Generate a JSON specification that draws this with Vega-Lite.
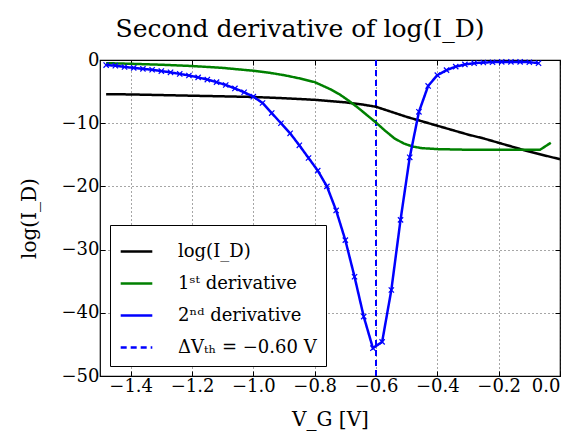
{
  "$schema": "https://vega.github.io/schema/vega-lite/v6.json",
  "width": 460,
  "height": 316,
  "autosize": {"type": "none"},
  "padding": {"left": 100, "top": 60, "right": 16, "bottom": 62},
  "background": "white",
  "title": {"text": "Second derivative of log(I_D)", "font": "DejaVu Serif", "fontSize": 25, "fontWeight": "normal", "color": "#000", "offset": 9, "anchor": "middle", "dx": -30},
  "config": {
    "font": "DejaVu Serif",
    "view": {"stroke": "#000", "strokeWidth": 1.2},
    "axis": {
      "labelFont": "DejaVu Serif", "labelFontSize": 18, "labelColor": "#000",
      "titleFont": "DejaVu Serif", "titleFontSize": 20, "titleFontWeight": "normal", "titleColor": "#000",
      "domain": false, "tickColor": "#000", "tickSize": -5, "tickWidth": 1,
      "grid": true, "gridColor": "#000", "gridDash": [1, 3], "gridOpacity": 0.7, "gridWidth": 1
    },
    "legend": {"labelFont": "DejaVu Serif", "labelFontSize": 18, "labelColor": "#000"},
    "style": {"guide-label": {"font": "DejaVu Serif"}}
  },
  "resolve": {"axis": {"x": "independent", "y": "independent"}},
  "datasets": {
    "curves": [
      {"s": "log(I_D)", "v": -1.48, "y": -5.4},
      {"s": "log(I_D)", "v": -1.4, "y": -5.45},
      {"s": "log(I_D)", "v": -1.3, "y": -5.55},
      {"s": "log(I_D)", "v": -1.2, "y": -5.65},
      {"s": "log(I_D)", "v": -1.1, "y": -5.75},
      {"s": "log(I_D)", "v": -1.0, "y": -5.85},
      {"s": "log(I_D)", "v": -0.9, "y": -6.05},
      {"s": "log(I_D)", "v": -0.8, "y": -6.3},
      {"s": "log(I_D)", "v": -0.7, "y": -6.7},
      {"s": "log(I_D)", "v": -0.65, "y": -7.0},
      {"s": "log(I_D)", "v": -0.6, "y": -7.4},
      {"s": "log(I_D)", "v": -0.55, "y": -8.2},
      {"s": "log(I_D)", "v": -0.5, "y": -9.0},
      {"s": "log(I_D)", "v": -0.45, "y": -9.7},
      {"s": "log(I_D)", "v": -0.4, "y": -10.4},
      {"s": "log(I_D)", "v": -0.35, "y": -11.1},
      {"s": "log(I_D)", "v": -0.3, "y": -11.8},
      {"s": "log(I_D)", "v": -0.25, "y": -12.4},
      {"s": "log(I_D)", "v": -0.2, "y": -13.1},
      {"s": "log(I_D)", "v": -0.15, "y": -13.8},
      {"s": "log(I_D)", "v": -0.1, "y": -14.5},
      {"s": "log(I_D)", "v": -0.05, "y": -15.1},
      {"s": "log(I_D)", "v": 0.0, "y": -15.7},
      {"s": "1ˢᵗ derivative", "v": -1.48, "y": -0.5},
      {"s": "1ˢᵗ derivative", "v": -1.4, "y": -0.6},
      {"s": "1ˢᵗ derivative", "v": -1.3, "y": -0.75},
      {"s": "1ˢᵗ derivative", "v": -1.2, "y": -0.95},
      {"s": "1ˢᵗ derivative", "v": -1.1, "y": -1.25},
      {"s": "1ˢᵗ derivative", "v": -1.0, "y": -1.7},
      {"s": "1ˢᵗ derivative", "v": -0.95, "y": -2.0},
      {"s": "1ˢᵗ derivative", "v": -0.9, "y": -2.4},
      {"s": "1ˢᵗ derivative", "v": -0.85, "y": -2.9},
      {"s": "1ˢᵗ derivative", "v": -0.8, "y": -3.5},
      {"s": "1ˢᵗ derivative", "v": -0.75, "y": -4.6},
      {"s": "1ˢᵗ derivative", "v": -0.72, "y": -5.4},
      {"s": "1ˢᵗ derivative", "v": -0.69, "y": -6.4},
      {"s": "1ˢᵗ derivative", "v": -0.66, "y": -7.5},
      {"s": "1ˢᵗ derivative", "v": -0.63, "y": -8.7},
      {"s": "1ˢᵗ derivative", "v": -0.6, "y": -9.9},
      {"s": "1ˢᵗ derivative", "v": -0.57, "y": -11.2},
      {"s": "1ˢᵗ derivative", "v": -0.54, "y": -12.4},
      {"s": "1ˢᵗ derivative", "v": -0.51, "y": -13.2},
      {"s": "1ˢᵗ derivative", "v": -0.48, "y": -13.7},
      {"s": "1ˢᵗ derivative", "v": -0.45, "y": -13.95},
      {"s": "1ˢᵗ derivative", "v": -0.4, "y": -14.1},
      {"s": "1ˢᵗ derivative", "v": -0.3, "y": -14.2},
      {"s": "1ˢᵗ derivative", "v": -0.2, "y": -14.2},
      {"s": "1ˢᵗ derivative", "v": -0.1, "y": -14.2},
      {"s": "1ˢᵗ derivative", "v": -0.065, "y": -14.2},
      {"s": "1ˢᵗ derivative", "v": -0.03, "y": -13.1},
      {"s": "2ⁿᵈ derivative", "v": -1.48, "y": -0.8},
      {"s": "2ⁿᵈ derivative", "v": -1.45, "y": -0.9},
      {"s": "2ⁿᵈ derivative", "v": -1.42, "y": -1.1},
      {"s": "2ⁿᵈ derivative", "v": -1.39, "y": -1.25},
      {"s": "2ⁿᵈ derivative", "v": -1.36, "y": -1.4},
      {"s": "2ⁿᵈ derivative", "v": -1.33, "y": -1.55},
      {"s": "2ⁿᵈ derivative", "v": -1.3, "y": -1.75},
      {"s": "2ⁿᵈ derivative", "v": -1.27, "y": -1.95},
      {"s": "2ⁿᵈ derivative", "v": -1.24, "y": -2.2},
      {"s": "2ⁿᵈ derivative", "v": -1.21, "y": -2.45},
      {"s": "2ⁿᵈ derivative", "v": -1.18, "y": -2.75},
      {"s": "2ⁿᵈ derivative", "v": -1.15, "y": -3.1},
      {"s": "2ⁿᵈ derivative", "v": -1.12, "y": -3.5},
      {"s": "2ⁿᵈ derivative", "v": -1.09, "y": -3.95},
      {"s": "2ⁿᵈ derivative", "v": -1.06, "y": -4.5},
      {"s": "2ⁿᵈ derivative", "v": -1.03, "y": -5.1},
      {"s": "2ⁿᵈ derivative", "v": -1.0, "y": -5.8},
      {"s": "2ⁿᵈ derivative", "v": -0.97, "y": -6.8},
      {"s": "2ⁿᵈ derivative", "v": -0.94, "y": -8.4},
      {"s": "2ⁿᵈ derivative", "v": -0.91, "y": -10.0},
      {"s": "2ⁿᵈ derivative", "v": -0.88, "y": -11.6},
      {"s": "2ⁿᵈ derivative", "v": -0.85, "y": -13.5},
      {"s": "2ⁿᵈ derivative", "v": -0.82, "y": -15.5},
      {"s": "2ⁿᵈ derivative", "v": -0.79, "y": -17.5},
      {"s": "2ⁿᵈ derivative", "v": -0.76, "y": -20.0},
      {"s": "2ⁿᵈ derivative", "v": -0.73, "y": -23.8},
      {"s": "2ⁿᵈ derivative", "v": -0.7, "y": -28.5},
      {"s": "2ⁿᵈ derivative", "v": -0.67, "y": -34.3},
      {"s": "2ⁿᵈ derivative", "v": -0.64, "y": -40.6},
      {"s": "2ⁿᵈ derivative", "v": -0.61, "y": -45.6},
      {"s": "2ⁿᵈ derivative", "v": -0.58, "y": -44.6},
      {"s": "2ⁿᵈ derivative", "v": -0.55, "y": -36.4},
      {"s": "2ⁿᵈ derivative", "v": -0.52, "y": -25.3},
      {"s": "2ⁿᵈ derivative", "v": -0.49, "y": -15.4},
      {"s": "2ⁿᵈ derivative", "v": -0.46, "y": -8.2},
      {"s": "2ⁿᵈ derivative", "v": -0.43, "y": -4.1},
      {"s": "2ⁿᵈ derivative", "v": -0.4, "y": -2.4},
      {"s": "2ⁿᵈ derivative", "v": -0.37, "y": -1.6},
      {"s": "2ⁿᵈ derivative", "v": -0.34, "y": -1.05},
      {"s": "2ⁿᵈ derivative", "v": -0.31, "y": -0.7},
      {"s": "2ⁿᵈ derivative", "v": -0.28, "y": -0.5},
      {"s": "2ⁿᵈ derivative", "v": -0.25, "y": -0.4},
      {"s": "2ⁿᵈ derivative", "v": -0.22, "y": -0.35},
      {"s": "2ⁿᵈ derivative", "v": -0.19, "y": -0.3},
      {"s": "2ⁿᵈ derivative", "v": -0.16, "y": -0.3},
      {"s": "2ⁿᵈ derivative", "v": -0.13, "y": -0.3},
      {"s": "2ⁿᵈ derivative", "v": -0.1, "y": -0.35},
      {"s": "2ⁿᵈ derivative", "v": -0.07, "y": -0.5}
    ],
    "vth": [{"s": "ΔVₜₕ = −0.60 V", "v": -0.6}]
  },
  "layer": [
    {
      "data": {"name": "vth"},
      "mark": {"type": "rule", "strokeWidth": 2},
      "encoding": {
        "x": {"field": "v", "type": "quantitative", "scale": {"domain": [-1.5, 0], "nice": false, "zero": false}, "axis": {"values": [-1.4, -1.2, -1.0, -0.8, -0.6, -0.4, -0.2, 0.0], "format": ".1f", "title": "V_G [V]", "titlePadding": 14, "labelPadding": 6}},
        "color": {"field": "s", "type": "nominal", "scale": {"domain": ["log(I_D)", "1ˢᵗ derivative", "2ⁿᵈ derivative", "ΔVₜₕ = −0.60 V"], "range": ["#000000", "#008000", "#0000ff", "#0000ff"]}, "legend": {"title": null, "orient": "bottom-left", "offset": 10, "fillColor": "#fff", "strokeColor": "#000", "padding": 9, "rowPadding": 5, "symbolType": "stroke", "symbolSize": 1000, "symbolStrokeWidth": 2.5, "labelOffset": 24, "labelFont": "DejaVu Serif", "labelFontSize": 18, "labelColor": "#000", "labelLimit": 300}},
        "strokeDash": {"field": "s", "type": "nominal", "scale": {"domain": ["log(I_D)", "1ˢᵗ derivative", "2ⁿᵈ derivative", "ΔVₜₕ = −0.60 V"], "range": [[1, 0], [1, 0], [1, 0], [6, 4]]}, "legend": {"title": null, "orient": "bottom-left", "offset": 10, "fillColor": "#fff", "strokeColor": "#000", "padding": 9, "rowPadding": 5, "symbolType": "stroke", "symbolSize": 1000, "symbolStrokeWidth": 2.5, "labelOffset": 24, "labelFont": "DejaVu Serif", "labelFontSize": 18, "labelColor": "#000", "labelLimit": 300}}
      }
    },
    {
      "data": {"name": "curves"},
      "mark": {"type": "line", "strokeWidth": 2.5},
      "encoding": {
        "x": {"field": "v", "type": "quantitative", "axis": null},
        "y": {"field": "y", "type": "quantitative", "scale": {"domain": [-50, 0], "nice": false, "zero": false}, "axis": {"values": [0, -10, -20, -30, -40, -50], "title": "log(I_D)", "titlePadding": 22, "labelPadding": 6}},
        "color": {"field": "s", "type": "nominal"},
        "strokeDash": {"field": "s", "type": "nominal"},
        "order": {"field": "v", "type": "quantitative"}
      }
    },
    {
      "data": {"name": "curves"},
      "transform": [{"filter": "datum.s == '2ⁿᵈ derivative'"}],
      "mark": {"type": "point", "shape": "M-1,-1L1,1M-1,1L1,-1", "filled": false, "stroke": "#0000ff", "strokeWidth": 1.2, "size": 28, "opacity": 1},
      "encoding": {
        "x": {"field": "v", "type": "quantitative", "axis": {"orient": "top", "values": [-1.4, -1.2, -1.0, -0.8, -0.6, -0.4, -0.2, 0.0], "labels": false, "title": null, "grid": false, "tickSize": -5}},
        "y": {"field": "y", "type": "quantitative", "axis": {"orient": "right", "values": [0, -10, -20, -30, -40, -50], "labels": false, "title": null, "grid": false, "tickSize": -5}}
      }
    }
  ]
}
